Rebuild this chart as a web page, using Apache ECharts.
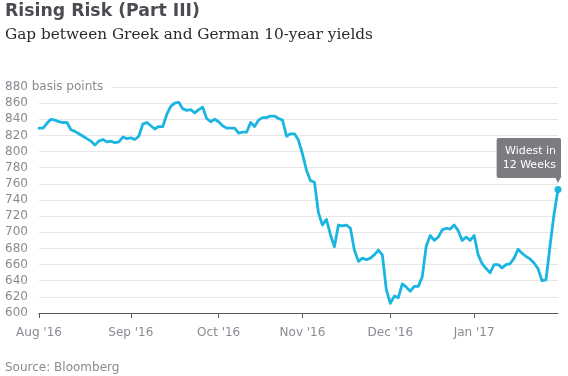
<!DOCTYPE html>
<html><head><meta charset="utf-8">
<script src="https://cdn.jsdelivr.net/npm/echarts@6/dist/echarts.min.js"></script>
<style>html,body{margin:0;padding:0;background:#fff}#c{width:568px;height:376px}</style>
</head><body><div id="c"></div>
<script>
// Greek minus German 10-year yield spread, basis points, one value per trading day (Aug 1 2016 - Jan 30 2017)
const spread = [
  829, 829, 835, 840, 839, 837, 836, 836, 827, 825,
  822, 819, 816, 813, 808, 813, 815, 812, 813, 811,
  812, 818, 816, 817, 815, 819, 834, 836, 832, 828,
  831, 831, 846, 856, 860, 861, 853, 851, 852, 848,
  852, 855, 841, 837, 840, 837, 832, 829, 829, 829,
  823, 824, 824, 836, 831, 839, 842, 842, 844, 844,
  841, 839, 819, 822, 822, 814, 797, 777, 764, 762,
  724, 709, 716, 697, 682, 709, 708, 709, 705, 678,
  664, 668, 666, 668, 672, 678, 672, 629, 612, 621,
  619, 636, 632, 627, 633, 633, 645, 683, 696, 690,
  694, 703, 705, 704, 709, 702, 690, 694, 690, 696,
  672, 661, 655, 650, 660, 660, 656, 660, 661, 668,
  679, 674, 670, 667, 662, 655, 640, 641, 683, 722,
  753
];
// trading-day index of the first trading day of each month, and its label
const monthTickIndex = [0, 23, 45, 66, 88, 109];
const monthTickLabels = ["Aug '16", "Sep '16", "Oct '16", "Nov '16", "Dec '16", "Jan '17"];
const yMin = 600, yMax = 880, yStep = 20;
const yUnit = "basis points";
const annotationLines = ["Widest in", "12 Weeks"];
const titleText = "Rising Risk (Part III)";
const subtitleText = "Gap between Greek and German 10-year yields";
const sourceText = "Source: Bloomberg";

const days = spread.map((_, i) => String(i));
const lastIdx = spread.length - 1;
const FONT = "DejaVu Sans";
const GREY = "#8a8a93";
const LINE = "#1bb5e2";
const BOX = "#7b7b82";

const chart = echarts.init(document.getElementById('c'), null, {renderer: 'canvas'});
chart.setOption({
  animation: false,
  backgroundColor: '#fff',
  title: [
    {text: titleText, left: 5, top: 3, padding: 0,
     textStyle: {fontFamily: FONT, fontWeight: 'bold', fontSize: 17.3, color: '#4b4b53'}},
    {text: subtitleText, left: 5, top: 28, padding: 0,
     textStyle: {fontFamily: 'DejaVu Serif', fontWeight: 'normal', fontSize: 15.3, color: '#2b2b2b'}},
    {text: sourceText, left: 5, top: 362, padding: 0,
     textStyle: {fontFamily: FONT, fontWeight: 'normal', fontSize: 12, color: GREY}}
  ],
  grid: {left: 39, right: 10, top: 87, bottom: 63, containLabel: false},
  xAxis: {
    type: 'category', data: days, boundaryGap: false,
    axisLine: {lineStyle: {color: '#58585f', width: 1}},
    axisTick: {show: true, length: 5, interval: (i) => monthTickIndex.includes(i),
               lineStyle: {color: '#58585f', width: 1}},
    axisLabel: {interval: (i) => monthTickIndex.includes(i),
                formatter: (v, i) => monthTickLabels[monthTickIndex.indexOf(i)] || '',
                color: GREY, fontFamily: FONT, fontSize: 12, margin: 14},
    splitLine: {show: false}
  },
  yAxis: {
    type: 'value', min: yMin, max: yMax, interval: yStep,
    axisLine: {show: false}, axisTick: {show: false},
    splitLine: {lineStyle: {color: '#e6e6e6', width: 1}},
    axisLabel: {
      align: 'left', margin: 34, color: GREY, fontFamily: FONT, fontSize: 12,
      formatter: (v) => v === yMax ? '{top|' + v + ' ' + yUnit + '}' : String(v),
      rich: {top: {backgroundColor: '#fff', padding: [2, 8, 2, 0], color: GREY, fontFamily: FONT, fontSize: 12}}
    }
  },
  series: [{
    type: 'line', data: spread, showSymbol: false, smooth: false,
    lineStyle: {color: LINE, width: 2.8, join: 'round', cap: 'round'},
    itemStyle: {color: LINE},
    markPoint: {
      silent: true,
      data: [
        {coord: [lastIdx, spread[lastIdx]], symbol: 'triangle', symbolRotate: 180,
         symbolSize: [7, 7], symbolOffset: [0, -10], itemStyle: {color: BOX}, label: {show: false}},
        {coord: [lastIdx, spread[lastIdx]], symbol: 'circle', symbolSize: 7,
         itemStyle: {color: LINE},
         label: {show: true, formatter: annotationLines.join('\n'), position: 'top', distance: 8,
                 align: 'right', offset: [3, 0], backgroundColor: BOX, color: '#fff',
                 padding: [6, 5, 6, 6], lineHeight: 14, fontSize: 11, fontFamily: FONT, borderRadius: 2}}
      ]
    }
  }]
});
</script></body></html>
